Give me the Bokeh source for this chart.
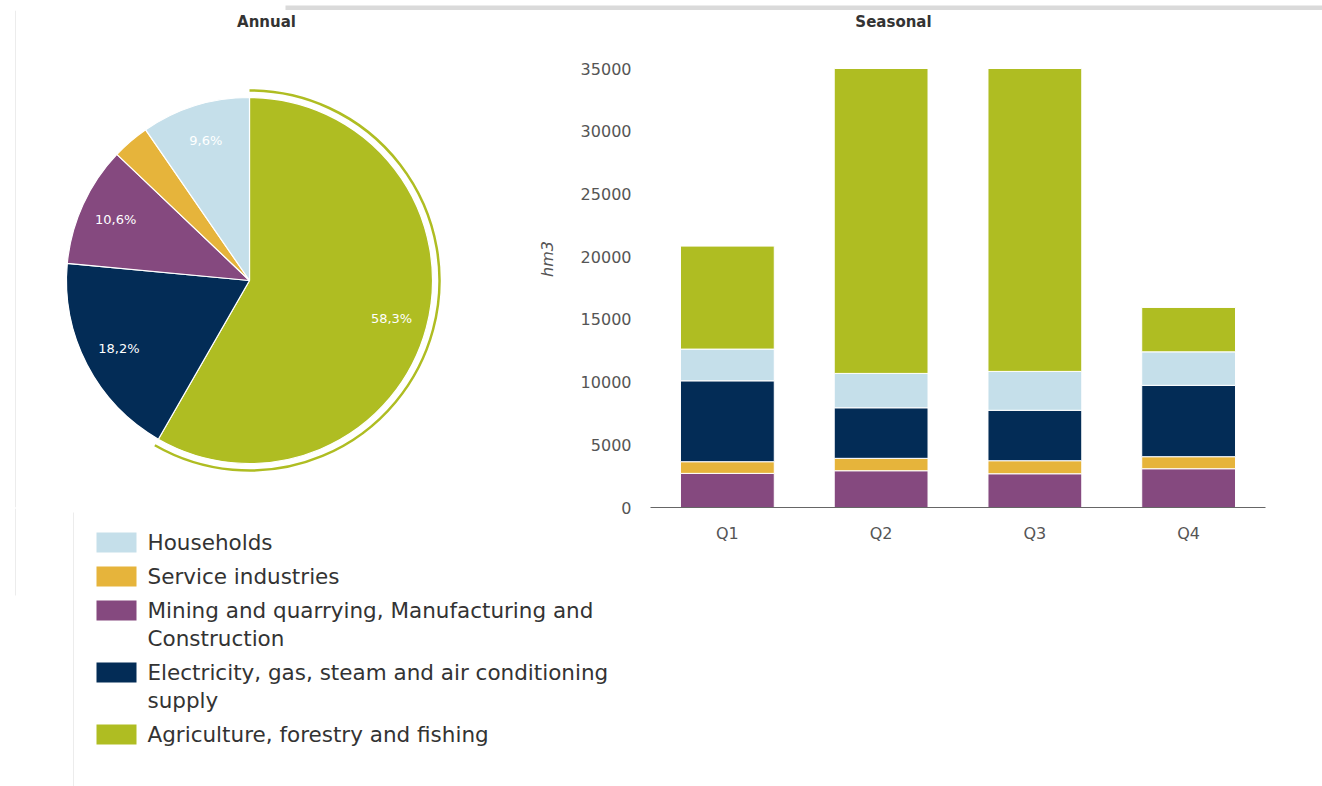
import math
from bokeh.plotting import figure
from bokeh.layouts import row, column
from bokeh.models import Range1d, FactorRange, FixedTicker, ColumnDataSource
from bokeh.core.properties import value
from bokeh.embed import file_html
from bokeh.resources import INLINE

# ---------------- data ----------------
quarters = ["Q1", "Q2", "Q3", "Q4"]
mining = [2720, 2930, 2690, 3090]
service = [930, 990, 1040, 960]
electricity = [6450, 4030, 4020, 5690]
households = [2530, 2740, 3100, 2670]
agriculture = [8210, 24310, 24150, 3540]

# pie, clockwise from 12 o'clock
pie_sectors = ["Agriculture, forestry and fishing",
               "Electricity, gas, steam and air conditioning supply",
               "Mining and quarrying, Manufacturing and Construction",
               "Service industries",
               "Households"]
pie_shares = [58.3, 18.2, 10.6, 3.3, 9.6]
pie_labels = ["58,3%", "18,2%", "10,6%", "", "9,6%"]

legend_names = [["Households"],
                ["Service industries"],
                ["Mining and quarrying, Manufacturing and", "Construction"],
                ["Electricity, gas, steam and air conditioning", "supply"],
                ["Agriculture, forestry and fishing"]]
y_ticks = [0, 5000, 10000, 15000, 20000, 25000, 30000, 35000]

# ---------------- style ----------------
C_HH = "#c5dfea"
C_SV = "#e6b43b"
C_MI = "#85497f"
C_EL = "#032c56"
C_AG = "#afbd22"
sector_colors = {"Agriculture, forestry and fishing": C_AG,
                 "Electricity, gas, steam and air conditioning supply": C_EL,
                 "Mining and quarrying, Manufacturing and Construction": C_MI,
                 "Service industries": C_SV,
                 "Households": C_HH}
legend_colors = [C_HH, C_SV, C_MI, C_EL, C_AG]
FONT = "DejaVu Sans"
ART = "#ececec"

# page geometry (pixels)
TOP = 10            # strip height
FRAME_BOTTOM = 507  # page row of the bar baseline
ROW_H = 537         # height of the pie / bar row
BOTTOM_BORDER = ROW_H - (FRAME_BOTTOM - TOP)
FH = FRAME_BOTTOM - TOP   # frame height (pixels)
PX_PER_UNIT = 439 / 35000.0
YMAX = FH / PX_PER_UNIT
LEG_TOP = 508
LH = 786 - LEG_TOP
LW = 614


def bare(fig):
    fig.axis.visible = False
    fig.grid.visible = False
    fig.outline_line_color = None
    fig.background_fill_color = "white"
    fig.border_fill_color = "white"
    return fig


# ---------------- top strip (page artefact) ----------------
strip = bare(figure(width=1322, height=TOP, x_range=Range1d(0, 1322), y_range=Range1d(0, TOP),
                    output_backend="svg", toolbar_location=None, min_border=0))
strip.quad(left=[285], right=[1322], bottom=[2], top=[7], fill_color="#dadada", line_color=None)
strip.segment(x0=[15], x1=[285], y0=[2], y1=[2], line_color=ART, line_width=1)

# ---------------- pie ----------------
pie = bare(figure(width=520, height=ROW_H, x_range=Range1d(0, 520), y_range=Range1d(0, FH),
                  output_backend="svg", toolbar_location=None, min_border=0,
                  min_border_bottom=BOTTOM_BORDER))
cx, cy, R = 249, FRAME_BOTTOM - 280, 183
total = sum(pie_shares)
ends, starts, mids = [], [], []
cum = 0.0
for s in pie_shares:
    a_end = math.pi / 2 - 2 * math.pi * cum / total
    cum += s
    a_start = math.pi / 2 - 2 * math.pi * cum / total
    starts.append(a_start)
    ends.append(a_end)
    mids.append((a_start + a_end) / 2)
src = ColumnDataSource(dict(start=starts, end=ends,
                            color=[sector_colors[n] for n in pie_sectors]))
pie.wedge(x=cx, y=cy, radius=R, start_angle="start", end_angle="end", source=src,
          fill_color="color", line_color="white", line_width=1.2)
# highlight ring on the hovered (agriculture) slice
pie.arc(x=cx, y=cy, radius=R + 7, start_angle=starts[0], end_angle=ends[0],
        line_color=C_AG, line_width=2.5)
lr = R - 36
pie.text(x=[cx + lr * math.cos(m) for m in mids], y=[cy + lr * math.sin(m) for m in mids],
         text=pie_labels, text_color="white", text_font=value(FONT), text_font_size="13px",
         text_align="center", text_baseline="middle")
pie.text(x=[266], y=[FRAME_BOTTOM - 21], text=["Annual"], text_color="#333333",
         text_font=value(FONT), text_font_size="15px", text_font_style="bold",
         text_align="center", text_baseline="middle")
pie.segment(x0=[15], x1=[15], y0=[0], y1=[FH], line_color=ART, line_width=1)

# ---------------- legend ----------------
leg = bare(figure(width=LW, height=LH, x_range=Range1d(0, LW), y_range=Range1d(0, LH),
                  output_backend="svg", toolbar_location=None, min_border=0))
leg.styles = {"margin-top": "-%dpx" % (TOP + ROW_H - LEG_TOP)}
leg.segment(x0=[15, 73], x1=[15, 73], y0=[LH, 786 - 512], y1=[786 - 595, 0],
            line_color=ART, line_width=1)
row_y = 786 - 542
sw_x, sw_y, tx, ty = [], [], [], []
texts = []
for i, lines in enumerate(legend_names):
    sw_x.append(116)
    sw_y.append(row_y)
    for j, t in enumerate(lines):
        tx.append(147)
        ty.append(row_y - 28 * j)
        texts.append(t)
    row_y -= 28 * (len(lines) - 1) + 34
leg.rect(x=sw_x, y=sw_y, width=40, height=20, fill_color=legend_colors, line_color=None)
leg.text(x=tx, y=ty, text=texts, text_color="#333333", text_font=value(FONT),
         text_font_size="21.5px", text_align="left", text_baseline="middle")

# ---------------- stacked bars ----------------
bsrc = ColumnDataSource(dict(q=quarters, mining=mining, service=service, electricity=electricity,
                             households=households, agriculture=agriculture))
bar = figure(width=802, height=ROW_H, x_range=FactorRange(*quarters, range_padding=0),
             y_range=Range1d(0, YMAX), output_backend="svg", toolbar_location=None,
             min_border_left=130, min_border_right=57, min_border_top=0,
             min_border_bottom=BOTTOM_BORDER)
bar.outline_line_color = None
bar.grid.visible = False
bar.vbar_stack(["mining", "service", "electricity", "households", "agriculture"], x="q",
               width=0.61, source=bsrc, color=[C_MI, C_SV, C_EL, C_HH, C_AG],
               line_color="white", line_width=1)
bar.text(x=[(893 - 650) / 153.75], y=[(FRAME_BOTTOM - 21) / PX_PER_UNIT], text=["Seasonal"],
         text_color="#333333", text_font=value(FONT), text_font_size="15px",
         text_font_style="bold", text_align="center", text_baseline="middle")
bar.yaxis.ticker = FixedTicker(ticks=y_ticks)
bar.yaxis.axis_line_color = None
bar.yaxis.major_tick_line_color = None
bar.yaxis.minor_tick_line_color = None
bar.yaxis.major_label_standoff = 13
bar.yaxis.major_label_text_font = FONT
bar.yaxis.major_label_text_font_size = "16px"
bar.yaxis.major_label_text_color = "#555555"
bar.yaxis.axis_label = "hm3"
bar.yaxis.axis_label_text_font = FONT
bar.yaxis.axis_label_text_font_style = "italic"
bar.yaxis.axis_label_text_font_size = "16px"
bar.yaxis.axis_label_text_color = "#555555"
bar.yaxis.axis_label_standoff = 21
bar.xaxis.axis_line_color = "#666666"
bar.xaxis.major_tick_line_color = None
bar.xaxis.minor_tick_line_color = None
bar.xaxis.major_label_standoff = 10
bar.xaxis.major_label_text_font = FONT
bar.xaxis.major_label_text_font_size = "16px"
bar.xaxis.major_label_text_color = "#555555"

layout = column(strip, row(pie, bar, spacing=0), leg, spacing=0)
open("out.html", "w").write(file_html(layout, INLINE))
